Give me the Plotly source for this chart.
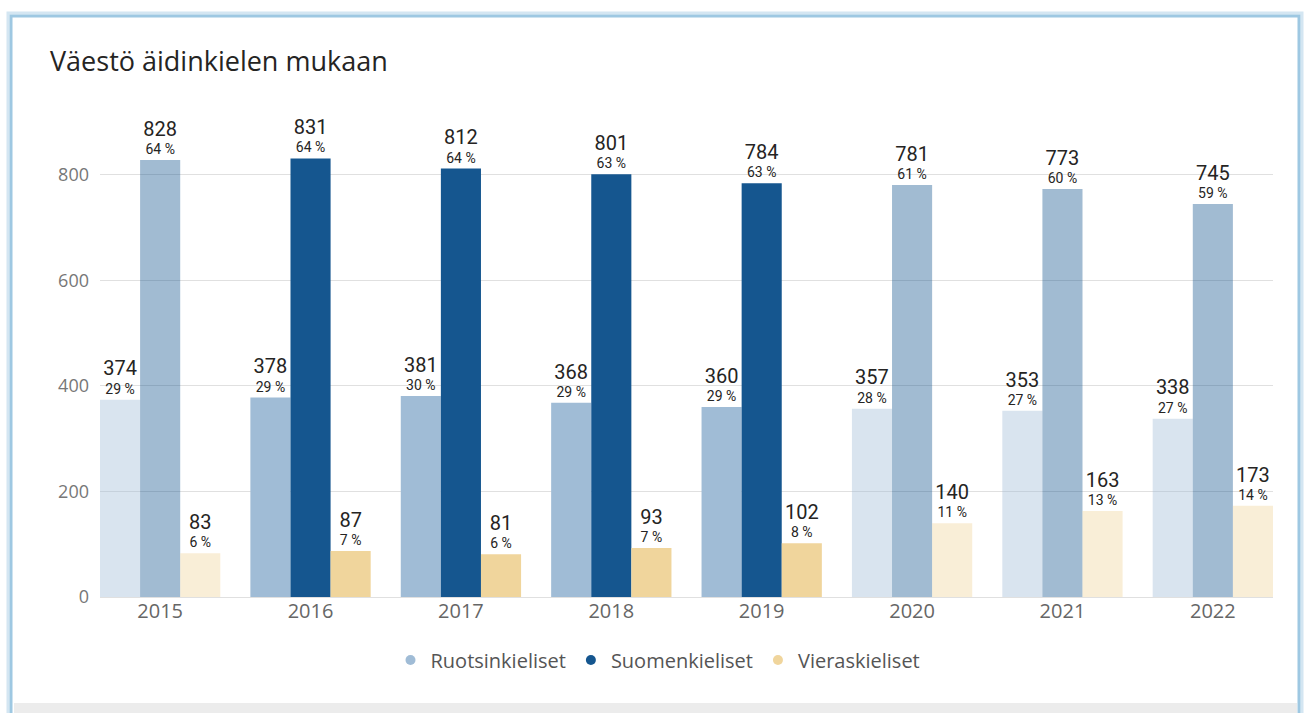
import plotly.graph_objects as go

years = ["2015", "2016", "2017", "2018", "2019", "2020", "2021", "2022"]
highlighted = ["2016", "2017", "2018", "2019"]

series_names = ["Ruotsinkieliset", "Suomenkieliset", "Vieraskieliset"]
ruotsi_values = [374, 378, 381, 368, 360, 357, 353, 338]
ruotsi_pct = [29, 29, 30, 29, 29, 28, 27, 27]
suomi_values = [828, 831, 812, 801, 784, 781, 773, 745]
suomi_pct = [64, 64, 64, 63, 63, 61, 60, 59]
vieras_values = [83, 87, 81, 93, 102, 140, 163, 173]
vieras_pct = [6, 7, 6, 7, 8, 11, 13, 14]

colors = ["#a0bcd6", "#15568f", "#f0d59c"]

W, H = 1304, 713
PL, PR, PT, PB = 100, 1273, 101, 597  # plot area in page pixels
ML, MR, MT, MB = PL, W - PR, PT, H - PB
PW, PH = W - ML - MR, H - MT - MB


def px(x):
    return (x - ML) / PW


def py(y):
    return (H - MB - y) / PH


fig = go.Figure()

data = [
    (ruotsi_values, ruotsi_pct),
    (suomi_values, suomi_pct),
    (vieras_values, vieras_pct),
]
for name, (vals, pcts), col in zip(series_names, data, colors):
    texts = [
        f"<span style='font-size:20px'>{v}</span><br>{p} %" for v, p in zip(vals, pcts)
    ]
    opac = [1.0 if y in highlighted else 0.4 for y in years]
    fig.add_trace(
        go.Bar(
            x=years,
            y=vals,
            name=name,
            marker=dict(color=col, opacity=opac, line=dict(width=0)),
            text=texts,
            textposition="outside",
            textfont=dict(family="Roboto", size=14, color="#252423"),
            cliponaxis=False,
            constraintext="none",
            showlegend=False,
            hoverinfo="skip",
        )
    )
    fig.add_trace(
        go.Scatter(
            x=[None],
            y=[None],
            mode="markers",
            name=name,
            marker=dict(symbol="circle", size=10, color=col),
            showlegend=True,
        )
    )

shapes = [
    # bottom grey strip
    dict(type="rect", xref="paper", yref="paper",
         x0=px(14), x1=px(1297), y0=py(703), y1=py(716),
         fillcolor="#ececec", line=dict(width=0), layer="below"),
    # soft outer glow
    dict(type="rect", xref="paper", yref="paper",
         x0=px(8), x1=px(1302), y0=py(730), y1=py(13),
         line=dict(color="#d4e6f2", width=3), layer="below"),
    # card border
    dict(type="rect", xref="paper", yref="paper",
         x0=px(11), x1=px(1299), y0=py(730), y1=py(16),
         line=dict(color="#9ec8e2", width=3), layer="below"),
]

fig.update_layout(
    width=W,
    height=H,
    margin=dict(l=ML, r=MR, t=MT, b=MB),
    paper_bgcolor="white",
    plot_bgcolor="white",
    barmode="group",
    bargap=0.2,
    bargroupgap=0,
    title=dict(
        text="Väestö äidinkielen mukaan",
        x=50 / W,
        xanchor="left",
        y=1 - 62 / H,
        yanchor="middle",
        font=dict(family="Open Sans", size=27, color="#252423"),
    ),
    xaxis=dict(
        type="category",
        range=[-0.4, 7.4],
        showgrid=False,
        showline=False,
        ticks="",
        tickfont=dict(family="Open Sans", size=20, color="#666666"),
        fixedrange=True,
    ),
    yaxis=dict(
        range=[0, 940],
        tickvals=[0, 200, 400, 600, 800],
        showgrid=True,
        gridcolor="rgba(0,0,0,0.12)",
        gridwidth=1,
        zeroline=True,
        zerolinecolor="rgba(0,0,0,0.12)",
        zerolinewidth=1,
        layer="above traces",
        tickfont=dict(family="Open Sans", size=18, color="#777777"),
        ticklabelstandoff=10,
        fixedrange=True,
    ),
    legend=dict(
        orientation="h",
        x=px(658),
        xanchor="center",
        y=py(660),
        yanchor="middle",
        font=dict(family="Open Sans", size=20, color="#555555"),
        itemwidth=30,
        traceorder="normal",
    ),
    shapes=shapes,
)

fig.write_html(
    "out.html",
    config={"displayModeBar": False},
    post_script="document.body.style.margin='0px';document.body.style.overflow='hidden';",
)
